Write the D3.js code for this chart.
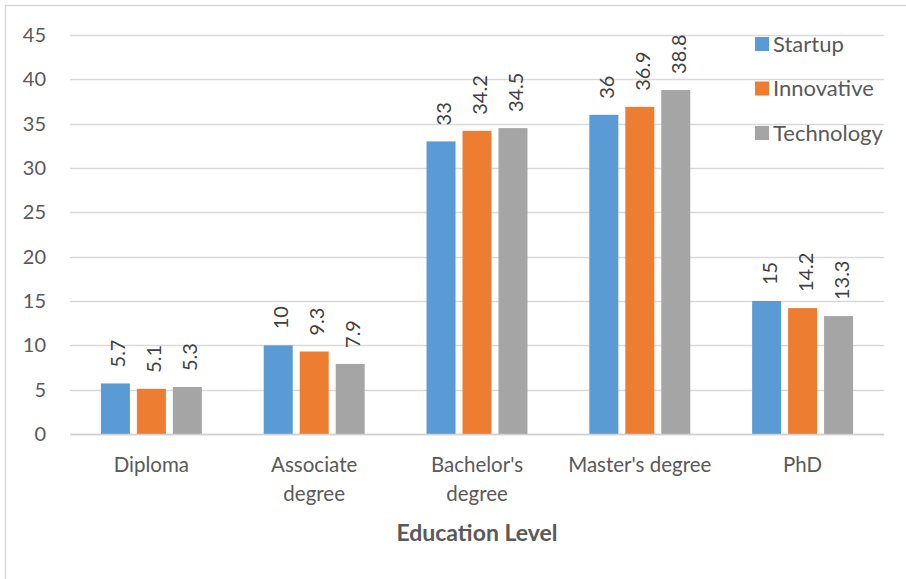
<!DOCTYPE html>
<html>
<head>
<meta charset="utf-8">
<script src="https://cdn.jsdelivr.net/npm/d3@7"></script>
<style>
  html, body { margin: 0; padding: 0; background: #fff; }
  svg { display: block; font-family: Lato, "Open Sans", sans-serif; }
</style>
</head>
<body>
<svg id="chart" width="906" height="579"></svg>
<script>
// Education level categories (two-line labels are split on "\n")
const categories = ["Diploma", "Associate\ndegree", "Bachelor's\ndegree", "Master's degree", "PhD"];
const seriesNames = ["Startup", "Innovative", "Technology"];
const startup    = [5.7, 10, 33, 36, 15];
const innovative = [5.1, 9.3, 34.2, 36.9, 14.2];
const technology = [5.3, 7.9, 34.5, 38.8, 13.3];
const yTicks = [0, 5, 10, 15, 20, 25, 30, 35, 40, 45];
const colors = ["#5b9bd5", "#ed7d31", "#a5a5a5"];
const xTitle = "Education Level";

const series = [startup, innovative, technology];

const svg = d3.select("#chart");
const W = 906, H = 579;

// outer frame (left and top edges)
svg.append("line").attr("x1", 5.5).attr("x2", 5.5).attr("y1", 5).attr("y2", H)
  .attr("stroke", "#d9d9d9").attr("stroke-width", 1.5);
svg.append("line").attr("x1", 5).attr("x2", W).attr("y1", 5.5).attr("y2", 5.5)
  .attr("stroke", "#d9d9d9").attr("stroke-width", 1.5);

const plot = { left: 70, right: 884, top: 35, bottom: 434 };

const y = d3.scaleLinear().domain([0, 45]).range([plot.bottom, plot.top]);
const x0 = d3.scaleBand().domain(d3.range(categories.length))
  .range([plot.left, plot.right]).paddingInner(0.38).paddingOuter(0.19);
const x1 = d3.scaleBand().domain(d3.range(seriesNames.length))
  .range([0, x0.bandwidth()]).paddingInner(0.194);

// gridlines
svg.append("g").selectAll("line").data(yTicks).join("line")
  .attr("x1", plot.left).attr("x2", plot.right)
  .attr("y1", d => Math.round(y(d)) + 0.5).attr("y2", d => Math.round(y(d)) + 0.5)
  .attr("stroke", "#d9d9d9").attr("stroke-width", 1.3);

// y axis labels
const yAxis = d3.axisLeft(y).tickValues(yTicks).tickSize(0).tickPadding(0);
const gy = svg.append("g").attr("transform", `translate(46,0)`).call(yAxis);
gy.select(".domain").remove();
gy.selectAll("text").attr("fill", "#595959").attr("font-size", 20)
  .attr("font-family", "Lato, 'Open Sans', sans-serif");

// bars
const groups = svg.append("g").selectAll("g").data(categories).join("g")
  .attr("transform", (d, i) => `translate(${x0(i)},0)`);

groups.each(function (cat, ci) {
  const g = d3.select(this);
  series.forEach((vals, si) => {
    const v = vals[ci];
    g.append("rect")
      .attr("x", x1(si)).attr("width", x1.bandwidth())
      .attr("y", y(v)).attr("height", y(0) - y(v))
      .attr("fill", colors[si]);
    const cx = x1(si) + x1.bandwidth() / 2 + 3;
    g.append("text")
      .attr("transform", `translate(${cx},${y(v) - 16}) rotate(-90)`)
      .attr("text-anchor", "start")
      .attr("dy", "0.35em")
      .attr("font-size", 20)
      .attr("fill", "#404040")
      .text(v);
  });
});

// x axis baseline
svg.append("line").attr("x1", plot.left).attr("x2", plot.right)
  .attr("y1", plot.bottom + 0.5).attr("y2", plot.bottom + 0.5)
  .attr("stroke", "#d0d0d0").attr("stroke-width", 1.5);

// category labels
const xl = svg.append("g").selectAll("text").data(categories).join("text")
  .attr("x", (d, i) => x0(i) + x0.bandwidth() / 2)
  .attr("y", 472)
  .attr("text-anchor", "middle")
  .attr("font-size", 20.5)
  .attr("fill", "#595959");
xl.each(function (d) {
  const t = d3.select(this);
  d.split("\n").forEach((line, k) => {
    t.append("tspan").attr("x", t.attr("x")).attr("dy", k === 0 ? 0 : 29).text(line);
  });
});

// x axis title
svg.append("text").attr("x", (plot.left + plot.right) / 2).attr("y", 541)
  .attr("text-anchor", "middle").attr("font-size", 23).attr("font-weight", "bold")
  .attr("fill", "#595959").text(xTitle);

// legend
const legend = svg.append("g").selectAll("g").data(seriesNames).join("g")
  .attr("transform", (d, i) => `translate(755,${44 + i * 44.5})`);
legend.append("rect").attr("x", 0).attr("y", -7).attr("width", 14).attr("height", 14)
  .attr("fill", (d, i) => colors[i]);
legend.append("text").attr("x", 18).attr("y", 0).attr("dy", "0.36em")
  .attr("font-size", 22).attr("fill", "#595959").text(d => d);
</script>
</body>
</html>
